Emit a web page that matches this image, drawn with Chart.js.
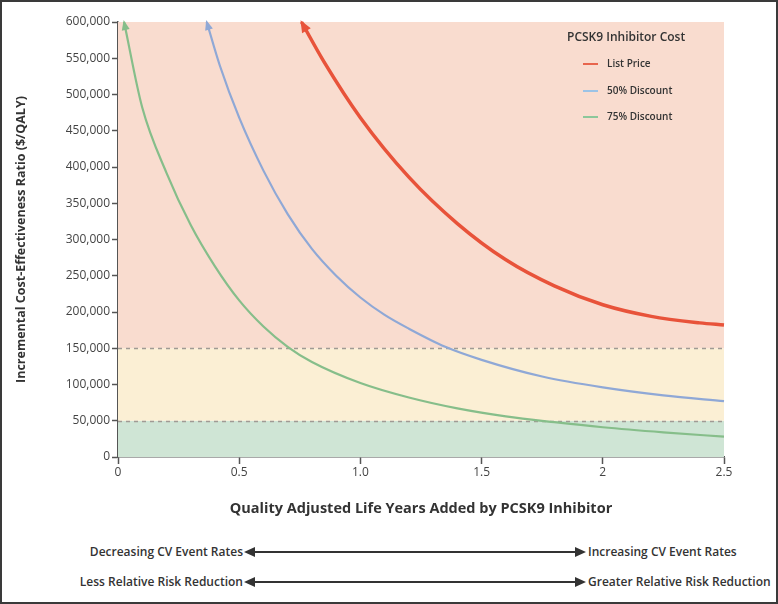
<!DOCTYPE html>
<html>
<head>
<meta charset="utf-8">
<script src="https://cdn.jsdelivr.net/npm/chart.js@4/dist/chart.umd.min.js"></script>
<style>
  html, body { margin: 0; padding: 0; background: #fff; }
  #wrap { position: relative; width: 778px; height: 604px; overflow: hidden; font-family: "Open Sans", sans-serif; color: #333; }
  #myChart { position: absolute; left: 0; top: 0; }
  #frame { position: absolute; left: 0; top: 0; width: 778px; height: 604px; box-sizing: border-box; border: 2px solid #3a3a3a; pointer-events: none; }
  .legend { position: absolute; left: 560px; top: 28px; font-size: 10px; font-weight: 600; }
  .legend .title { font-size: 12px; margin: 0 0 11px 7px; }
  .legend .item { position: relative; height: 26.5px; padding-left: 47px; line-height: 14px; }
  .legend .item span { position: absolute; left: 23px; top: 7px; width: 15px; height: 2px; }
  .arrows { position: absolute; left: 0; width: 778px; font-size: 12px; font-weight: 600; }
  .arrows .l { position: absolute; right: 535px; top: 0; white-space: nowrap; }
  .arrows .r { position: absolute; left: 588px; top: 0; white-space: nowrap; }
  .arrows svg { position: absolute; left: 244px; top: 4px; }
</style>
</head>
<body>
<div id="wrap">
  <canvas id="myChart" width="778" height="530"></canvas>
  <div class="legend" id="legend"></div>
  <div class="arrows" style="top:543px">
    <div class="l">Decreasing CV Event Rates</div>
    <svg width="342" height="10"><path d="M0,5 L11,0 L11,10 Z M331,0 L342,5 L331,10 Z" fill="#333"/><line x1="8" y1="5" x2="334" y2="5" stroke="#333" stroke-width="2"/></svg>
    <div class="r">Increasing CV Event Rates</div>
  </div>
  <div class="arrows" style="top:573px">
    <div class="l">Less Relative Risk Reduction</div>
    <svg width="342" height="10"><path d="M0,5 L11,0 L11,10 Z M331,0 L342,5 L331,10 Z" fill="#333"/><line x1="8" y1="5" x2="334" y2="5" stroke="#333" stroke-width="2"/></svg>
    <div class="r">Greater Relative Risk Reduction</div>
  </div>
  <div id="frame"></div>
</div>
<script>
'use strict';

// QALYs added vs ICER ($/QALY)
var qalyListPrice = [0.757, 0.85, 1.0, 1.2, 1.4, 1.6, 1.8, 2.0, 2.2, 2.4, 2.5];
var icerListPrice = [600000, 545000, 468000, 386000, 322000, 272000, 236000, 210000, 194000, 185000, 182000];

var qaly50 = [0.366, 0.42, 0.5, 0.6, 0.7, 0.8, 0.9, 1.0, 1.1, 1.2, 1.35, 1.5, 1.75, 2.0, 2.25, 2.5];
var icer50 = [600000, 540000, 468000, 395000, 335000, 287000, 250000, 220000, 196000, 177000, 152000, 134000, 111000, 96000, 85000, 77000];

var qaly75 = [0.025, 0.1, 0.2, 0.3, 0.4, 0.5, 0.6, 0.7, 0.8, 1.0, 1.2, 1.4, 1.6, 1.8, 2.0, 2.25, 2.5];
var icer75 = [600000, 482000, 392000, 320000, 263000, 216000, 180000, 152000, 131000, 102000, 82000, 67000, 56000, 48000, 41000, 34000, 28000];

var seriesNames = ['List Price', '50% Discount', '75% Discount'];
var seriesColors = ['#e8533a', '#8fa8d6', '#86be8a'];
var legendColors = ['#e8654d', '#9cc3e6', '#8cc79a'];
var legendTitle = 'PCSK9 Inhibitor Cost';

// willingness-to-pay thresholds and shaded bands
var thresholds = [50000, 150000];
var bandEdges = [0, 50000, 150000, 600000];
var bandColors = ['#cfe5d5', '#fbefd4', '#f9dccf'];

var xTickLabels = ['0', '0.5', '1.0', '1.5', '2', '2.5'];

function pairs(xs, ys) {
    return xs.map(function(x, i) { return { x: x, y: ys[i] }; });
}

var bandsPlugin = {
    id: 'bands',
    beforeDatasetsDraw: function(chart) {
        var c = chart.ctx, a = chart.chartArea, y = chart.scales.y;
        c.save();
        for (var i = 0; i < bandColors.length; i++) {
            var top = y.getPixelForValue(bandEdges[i + 1]);
            var bot = y.getPixelForValue(bandEdges[i]);
            c.fillStyle = bandColors[i];
            c.fillRect(a.left, top, a.right - a.left, bot - top);
        }
        c.strokeStyle = '#a09a94';
        c.lineWidth = 1.5;
        c.setLineDash([4, 4]);
        thresholds.forEach(function(t) {
            var py = Math.round(y.getPixelForValue(t)) + 0.5;
            c.beginPath();
            c.moveTo(a.left, py);
            c.lineTo(a.right, py);
            c.stroke();
        });
        c.restore();
    }
};

var arrowPlugin = {
    id: 'arrowheads',
    afterDatasetsDraw: function(chart) {
        var c = chart.ctx;
        chart.data.datasets.forEach(function(ds, i) {
            var pts = chart.getDatasetMeta(i).data;
            var p0 = pts[0], p1 = pts[1];
            var ang = Math.atan2(p0.y - p1.y, p0.x - p1.x);
            var len = i === 0 ? 12 : 10, w = i === 0 ? 5 : 4;
            c.save();
            c.translate(p0.x, p0.y);
            c.rotate(ang);
            c.fillStyle = ds.borderColor;
            c.beginPath();
            c.moveTo(2, 0);
            c.lineTo(2 - len, -w);
            c.lineTo(2 - len, w);
            c.closePath();
            c.fill();
            c.restore();
        });
    }
};

var ctx = document.getElementById("myChart").getContext("2d");
var myChart = new Chart(ctx, {
    type: 'scatter',
    data: {
        datasets: [{
            label: seriesNames[0],
            data: pairs(qalyListPrice, icerListPrice),
            borderColor: seriesColors[0],
            borderWidth: 3.5
        }, {
            label: seriesNames[1],
            data: pairs(qaly50, icer50),
            borderColor: seriesColors[1],
            borderWidth: 2.2
        }, {
            label: seriesNames[2],
            data: pairs(qaly75, icer75),
            borderColor: seriesColors[2],
            borderWidth: 2.2
        }].map(function(d) {
            d.showLine = true;
            d.pointRadius = 0;
            d.cubicInterpolationMode = 'monotone';
            d.clip = 8;
            d.backgroundColor = d.borderColor;
            return d;
        })
    },
    options: {
        responsive: false,
        animation: false,
        layout: { padding: { left: 0, top: 22, right: 54, bottom: 0 } },
        plugins: { legend: { display: false }, tooltip: { enabled: false } },
        scales: {
            x: {
                type: 'linear',
                min: 0,
                max: 2.5,
                afterFit: function(s) { s.height = 73; },
                grid: { drawOnChartArea: false, drawTicks: true, tickLength: 7, tickColor: '#555', tickWidth: 1.5 },
                border: { color: '#555', width: 1.5 },
                ticks: {
                    stepSize: 0.5,
                    padding: 1,
                    color: '#444',
                    font: { family: 'Open Sans', size: 12 },
                    maxRotation: 0,
                    callback: function(v) { return xTickLabels[Math.round(v / 0.5)]; }
                },
                title: {
                    display: true,
                    text: 'Quality Adjusted Life Years Added by PCSK9 Inhibitor',
                    color: '#333',
                    font: { family: 'Open Sans', size: 14.5, weight: 'bold' },
                    padding: { top: 0, bottom: 12 }
                }
            },
            y: {
                min: 0,
                max: 600000,
                afterFit: function(s) { s.width = 118; },
                grid: { drawOnChartArea: false, drawTicks: true, tickLength: 6, tickColor: '#555', tickWidth: 1.5 },
                border: { color: '#555', width: 1.5 },
                ticks: {
                    stepSize: 50000,
                    padding: 2,
                    color: '#444',
                    font: { family: 'Open Sans', size: 12 },
                    callback: function(v) { return v.toLocaleString('en-US'); }
                },
                title: {
                    display: true,
                    text: 'Incremental Cost-Effectiveness Ratio ($/QALY)',
                    color: '#333',
                    font: { family: 'Open Sans', size: 12.5, weight: 'bold' },
                    padding: { top: 14, bottom: 0 }
                }
            }
        }
    },
    plugins: [bandsPlugin, arrowPlugin]
});

// legend inside the plot, top right
var lg = document.getElementById('legend');
var html = '<div class="title">' + legendTitle + '</div>';
seriesNames.forEach(function(n, i) {
    html += '<div class="item"><span style="background:' + legendColors[i] + '"></span>' + n + '</div>';
});
lg.innerHTML = html;
</script>
</body>
</html>
